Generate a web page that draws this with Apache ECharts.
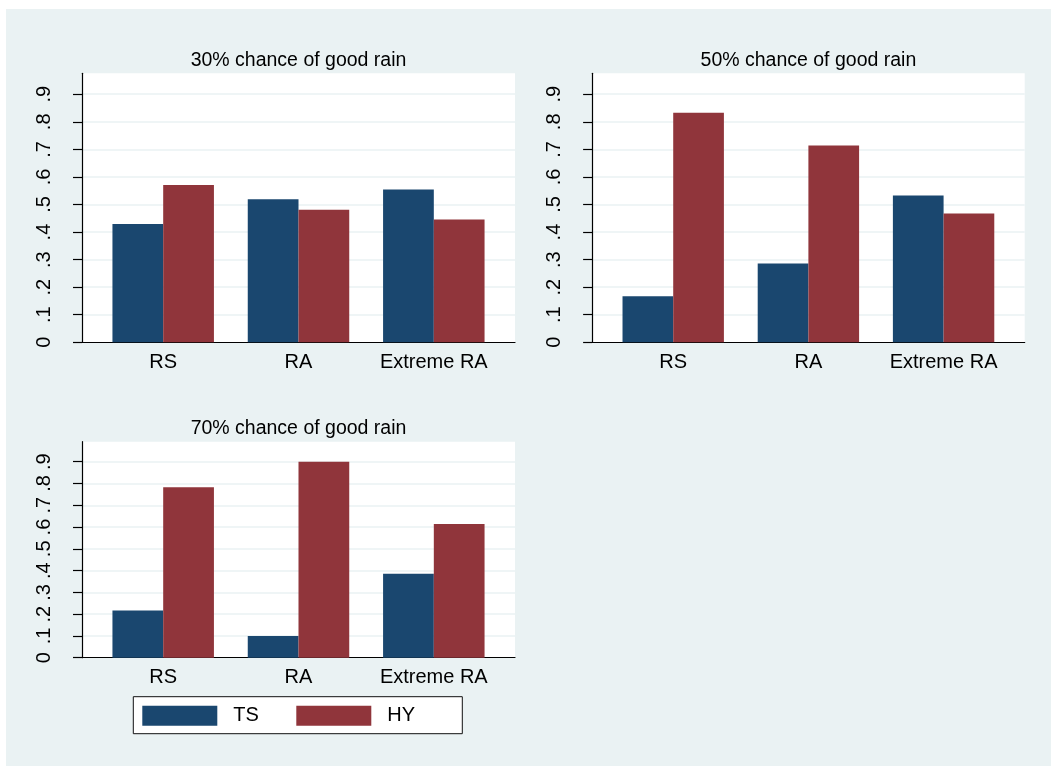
<!DOCTYPE html>
<html>
<head>
<meta charset="utf-8">
<script src="https://cdn.jsdelivr.net/npm/echarts@6/dist/echarts.min.js"></script>
<style>
  html, body { margin: 0; padding: 0; background: #ffffff; }
  #chart { position: absolute; left: 6px; top: 9px; width: 1045px; height: 757px; background: #eaf2f3; }
</style>
</head>
<body>
<div id="chart"></div>
<script>
// Categories and series
const categories = ['RS', 'RA', 'Extreme RA'];
const seriesNames = ['TS', 'HY'];
const panelTitles = ['30% chance of good rain', '50% chance of good rain', '70% chance of good rain'];

// Shares by scenario
const ts30 = [0.429, 0.519, 0.554];
const hy30 = [0.571, 0.481, 0.446];
const ts50 = [0.167, 0.286, 0.533];
const hy50 = [0.833, 0.714, 0.467];
const ts70 = [0.217, 0.100, 0.386];
const hy70 = [0.783, 0.900, 0.614];

// Y-axis ticks
const yTickValues = [0, 0.1, 0.2, 0.3, 0.4, 0.5, 0.6, 0.7, 0.8, 0.9];
const yTickLabels = ['0', '.1', '.2', '.3', '.4', '.5', '.6', '.7', '.8', '.9'];

const FONT = '"Liberation Sans", Arial, Helvetica, sans-serif';
const TS_COLOR = '#1a476f';
const HY_COLOR = '#90353b';
const BG = '#eaf2f3';
const INK = '#000000';

// Panel frames (plot regions)
const panels = [
  { title: panelTitles[0], ts: ts30, hy: hy30, left: 76,    top: 64.3,  width: 433,   height: 269, yMax: 0.976 },
  { title: panelTitles[1], ts: ts50, hy: hy50, left: 586.1, top: 64.3,  width: 432.6, height: 269, yMax: 0.976 },
  { title: panelTitles[2], ts: ts70, hy: hy70, left: 76,    top: 432.7, width: 433,   height: 216, yMax: 0.992 }
];

const grid = [], xAxis = [], yAxis = [], series = [], title = [];

panels.forEach((p, i) => {
  grid.push({
    left: p.left, top: p.top, width: p.width, height: p.height,
    show: true, backgroundColor: '#ffffff', borderWidth: 0, containLabel: false
  });

  title.push({
    text: p.title,
    left: p.left + p.width / 2,
    top: p.top - 22.6,
    textAlign: 'center',
    padding: 0,
    textStyle: { fontFamily: FONT, fontSize: 19.5, fontWeight: 'normal', color: INK, lineHeight: 20 }
  });

  xAxis.push({
    gridIndex: i,
    type: 'value',
    min: -0.6,
    max: 2.6,
    axisLine: { show: true, onZero: false, lineStyle: { color: INK, width: 1.2 } },
    axisTick: { show: false },
    splitLine: { show: false },
    axisLabel: {
      customValues: [0, 1, 2],
      formatter: v => categories[Math.round(v)],
      margin: 10,
      fontFamily: FONT,
      fontSize: 20,
      color: INK
    }
  });

  yAxis.push({
    gridIndex: i,
    type: 'value',
    min: 0,
    max: p.yMax,
    interval: 0.1,
    axisLine: { show: true, onZero: false, lineStyle: { color: INK, width: 1.2 } },
    axisTick: { show: true, length: 9, customValues: yTickValues, lineStyle: { color: INK, width: 1.2 } },
    axisLabel: {
      customValues: yTickValues,
      rotate: 90,
      margin: 28,
      fontFamily: FONT,
      fontSize: 20,
      color: INK,
      formatter: v => {
        const k = yTickValues.findIndex(t => Math.abs(t - v) < 1e-6);
        return k >= 0 ? yTickLabels[k] : '';
      }
    },
    splitLine: { show: true, lineStyle: { color: BG, width: 1.5 } }
  });

  series.push({
    type: 'bar', name: seriesNames[0], xAxisIndex: i, yAxisIndex: i,
    data: p.ts.map((v, k) => [k, v]),
    barWidth: '37.5%', barGap: '0%',
    itemStyle: { color: TS_COLOR }
  });
  series.push({
    type: 'bar', name: seriesNames[1], xAxisIndex: i, yAxisIndex: i,
    data: p.hy.map((v, k) => [k, v]),
    barWidth: '37.5%', barGap: '0%',
    itemStyle: { color: HY_COLOR }
  });
});

const chart = echarts.init(document.getElementById('chart'), null, { renderer: 'canvas' });
chart.setOption({
  animation: false,
  backgroundColor: BG,
  title: title,
  grid: grid,
  xAxis: xAxis,
  yAxis: yAxis,
  series: series,
  legend: {
    data: seriesNames,
    left: 127.3,
    top: 687.7,
    orient: 'horizontal',
    icon: 'rect',
    itemWidth: 75,
    itemHeight: 20,
    itemGap: 0,
    padding: [9, 12, 8, 9],
    backgroundColor: '#ffffff',
    borderColor: '#111111',
    borderWidth: 1,
    selectedMode: false,
    textStyle: {
      fontFamily: FONT,
      fontSize: 20,
      color: INK,
      lineHeight: 20,
      padding: [0, 0, 0, 11],
      width: 63
    }
  }
});
</script>
</body>
</html>
